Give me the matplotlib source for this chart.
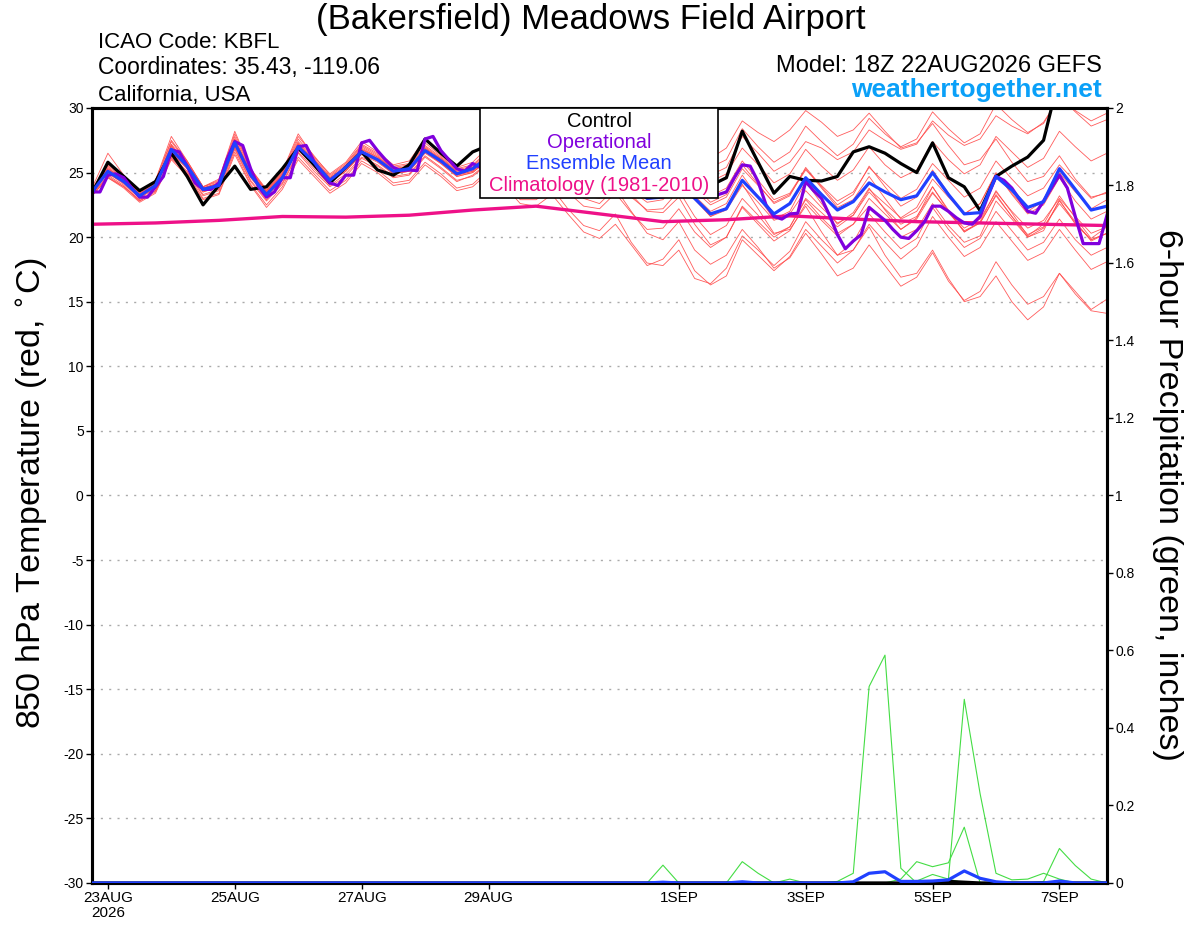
import matplotlib.pyplot as plt
import matplotlib.patches as patches
import numpy as np

plt.rcParams['font.family'] = ['Liberation Sans', 'DejaVu Sans']
plt.rcParams['axes.unicode_minus'] = False

# hours after 18Z 22AUG2026
hours6 = np.arange(0, 385, 6)
hours3 = np.arange(0, 385, 3)

tick_hours = [6, 54, 102, 150, 222, 270, 318, 366]
tick_labels = ['23AUG\n2026', '25AUG', '27AUG', '29AUG', '1SEP', '3SEP', '5SEP', '7SEP']

# 850 hPa temperature (C), 6-hourly
control = [23.4, 25.8, 24.7, 23.6, 24.3, 26.5, 24.7, 22.5, 24.0, 25.5, 23.7, 23.9, 25.3, 26.9, 25.6, 24.2, 25.4, 26.6, 25.2, 24.8, 25.6, 27.6, 26.5, 25.5, 26.6, 27.1,
           26.0, 25.0, 25.4, 26.8, 25.6, 24.6, 24.8, 26.2, 25.0, 24.2, 24.6, 26.0, 24.5, 24.0, 24.6,
           28.2, 25.8, 23.4, 24.7, 24.4, 24.35, 24.7, 26.6, 27.0, 26.5, 25.7, 25.0, 27.3, 24.6, 23.9, 22.05, 24.7, 25.5, 26.2, 27.5, 32.5, 34.0, 33.0, 33.5]

ens_mean = [23.5, 25.1, 24.3, 23.2, 24.0, 26.8, 25.5, 23.7, 24.0, 27.3, 24.8, 23.3, 24.6, 27.0, 25.8, 24.4, 25.4, 26.6, 26.0, 25.1, 25.3, 26.7, 25.9, 24.9, 25.3, 26.2,
            25.5, 24.5, 24.8, 25.8, 24.8, 24.0, 23.8, 25.0, 24.0, 23.0, 23.1, 24.2, 23.0, 21.8, 22.2,
            24.4, 23.1, 21.8, 22.6, 24.6, 23.3, 22.1, 22.75, 24.2, 23.5, 22.9, 23.2, 25.0, 23.3, 21.8, 21.9, 24.7, 23.65, 22.3, 22.75, 25.3, 23.7, 22.1, 22.4]

# operational run, 3-hourly
operational = [23.5, 23.5, 24.8, 24.9, 24.6, 23.8, 23.1, 23.1, 23.9, 24.7,
               26.75, 26.6, 25.5, 24.2, 23.7, 23.7, 24.2, 26.0, 27.4, 27.1,
               25.3, 23.9, 23.1, 23.5, 24.6, 24.6, 27.0, 27.1, 25.85, 24.9,
               24.2, 24.0, 24.8, 24.8, 27.3, 27.5, 26.7, 26.0, 25.4, 25.15,
               25.2, 25.15, 27.6, 27.8, 26.7, 26.0, 25.3, 25.1, 25.7, 25.4,
               26.8, 26.9, 26.0, 25.2, 24.6, 24.4, 24.9, 25.8, 26.9, 26.7,
               25.6, 24.7, 24.0, 23.8, 24.3, 25.2, 26.2, 26.0, 25.0, 24.2,
               23.6, 23.4, 23.8, 24.5, 25.6, 24.0, 23.2, 23.1, 23.2, 23.3,
               23.5, 24.6, 25.6, 25.5, 24.3, 22.5, 21.6, 21.4, 21.8, 21.85,
               24.3, 23.6, 23.0, 21.7, 20.2, 19.1, 19.7, 20.2, 22.3, 21.8,
               21.3, 20.6, 20.0, 19.9, 20.5, 21.2, 22.4, 22.4, 22.0, 21.5,
               21.1, 21.0, 21.6, 23.2, 24.7, 24.4, 23.8, 22.9, 22.0, 21.85,
               22.8, 23.8, 24.8, 23.8, 21.6, 19.5, 19.5, 19.5, 21.7]

members = [
    [23.8, 26.5, 24.8, 23.6, 24.4, 27.8, 25.9, 23.9, 24.5, 28.2, 25.3, 23.6, 25.1, 28.0, 26.2, 24.9, 25.8, 27.4, 26.6, 25.6, 25.9, 27.6, 26.4, 25.4, 25.8, 27.0,
     26.3, 25.2, 25.6, 27.4, 26.1, 25.0, 25.2, 26.9, 25.8, 24.9, 25.3, 27.1, 25.6, 24.8, 25.4,
     27.8, 26.5, 25.1, 25.8, 27.4, 26.9, 26.0, 26.6, 28.3, 27.5, 26.8, 27.2, 29.0, 27.9, 27.1, 27.6, 29.4, 28.6, 28.0, 28.9, 30.8, 29.8, 29.0, 29.6],
    [23.2, 24.6, 23.9, 22.9, 23.6, 26.2, 25.0, 23.2, 23.6, 26.8, 24.3, 22.8, 24.1, 26.5, 25.1, 23.9, 24.7, 26.1, 25.5, 24.6, 24.8, 26.2, 25.3, 24.3, 24.8, 25.8,
     25.0, 23.9, 24.2, 25.3, 24.0, 23.2, 23.0, 24.4, 23.1, 22.1, 22.2, 23.6, 21.6, 20.2, 20.9,
     23.0, 21.7, 20.2, 20.8, 22.9, 21.5, 20.3, 21.0, 22.4, 21.2, 20.0, 20.6, 22.6, 20.9, 19.6, 20.1, 22.8, 21.4, 20.0, 20.5, 22.9, 21.0, 19.8, 20.3],
    [23.6, 25.3, 24.5, 23.4, 24.2, 27.1, 25.6, 23.8, 24.1, 27.6, 25.0, 23.4, 24.7, 27.3, 25.9, 24.5, 25.4, 26.9, 26.2, 25.2, 25.4, 26.9, 26.0, 25.0, 25.2, 26.4,
     25.6, 24.3, 24.5, 25.6, 24.1, 23.0, 22.6, 23.8, 22.0, 20.3, 19.8, 21.2, 19.0, 17.9, 18.6,
     20.6, 19.2, 17.6, 18.4, 20.3, 18.7, 17.0, 17.6, 19.4, 17.8, 16.2, 16.9, 18.8, 16.6, 15.1, 15.8, 18.1, 16.3, 14.8, 15.4, 17.2, 15.6, 14.3, 14.1],
    [23.4, 25.0, 24.1, 23.0, 23.8, 26.5, 25.3, 23.5, 23.9, 27.0, 24.6, 23.1, 24.4, 26.8, 25.5, 24.2, 25.1, 26.4, 25.8, 24.9, 25.1, 26.5, 25.7, 24.7, 25.0, 26.0,
     25.3, 24.4, 24.9, 26.2, 25.1, 24.3, 24.6, 26.0, 24.9, 24.1, 24.6, 26.3, 25.1, 24.3, 24.9,
     26.9, 25.6, 24.2, 24.9, 26.8, 25.5, 24.4, 25.2, 27.0, 25.6, 24.6, 25.2, 27.4, 26.0, 24.9, 25.6, 27.8, 26.6, 25.4, 26.1, 28.2, 27.0, 25.9, 26.5],
    [23.7, 25.6, 24.6, 23.5, 24.3, 27.4, 25.8, 23.9, 24.3, 27.8, 25.2, 23.5, 24.9, 27.6, 26.1, 24.7, 25.6, 27.1, 26.4, 25.4, 25.6, 27.1, 26.2, 25.2, 25.5, 26.6,
     25.8, 24.8, 25.0, 26.3, 25.1, 24.0, 23.9, 25.4, 24.0, 22.9, 23.1, 24.9, 23.2, 22.0, 22.6,
     24.8, 23.1, 21.4, 22.0, 24.3, 22.6, 21.0, 21.9, 23.8, 22.1, 20.6, 21.5, 23.9, 22.0, 20.4, 21.2, 23.6, 21.9, 20.1, 21.0, 23.2, 21.5, 19.9, 20.8],
    [23.3, 24.8, 24.0, 22.8, 23.5, 26.1, 24.9, 23.0, 23.4, 26.6, 24.1, 22.5, 23.9, 26.2, 24.9, 23.6, 24.4, 25.9, 25.2, 24.2, 24.4, 25.8, 24.9, 23.8, 24.1, 25.2,
     24.2, 22.9, 22.9, 23.8, 22.2, 20.9, 20.5, 21.8, 19.6, 18.0, 17.8, 19.0, 16.8, 16.4, 17.6,
     20.1, 19.0, 17.8, 18.9, 21.2, 19.8, 18.6, 19.6, 21.8, 20.4, 19.1, 19.9, 22.3, 20.6, 19.2, 19.9, 22.0, 20.5, 19.0, 19.6, 21.4, 19.8, 18.6, 19.2],
    [23.5, 25.2, 24.4, 23.3, 24.1, 27.0, 25.7, 23.8, 24.2, 27.5, 25.0, 23.5, 24.8, 27.2, 25.8, 24.5, 25.4, 26.8, 26.2, 25.3, 25.4, 26.8, 26.1, 25.1, 25.4, 26.3,
     25.7, 24.7, 25.0, 26.5, 25.6, 24.8, 25.2, 26.8, 25.9, 25.0, 25.5, 27.4, 26.3, 25.4, 26.0,
     28.4, 27.0, 25.8, 26.6, 28.6, 27.4, 26.3, 27.2, 29.2, 28.0, 27.0, 27.6, 29.7, 28.4, 27.3, 28.0, 30.3, 29.1, 28.1, 28.8, 30.9, 29.7, 28.6, 29.1],
    [23.6, 24.9, 24.2, 23.1, 23.9, 26.7, 25.4, 23.6, 24.0, 27.1, 24.7, 23.2, 24.5, 26.9, 25.6, 24.3, 25.2, 26.5, 25.9, 25.0, 25.2, 26.6, 25.8, 24.8, 25.1, 26.1,
     25.2, 24.0, 24.2, 25.4, 24.3, 23.4, 23.4, 24.8, 23.6, 22.7, 22.9, 24.4, 22.9, 21.6, 22.1,
     24.0, 22.7, 21.3, 21.8, 23.6, 22.3, 21.1, 21.7, 23.5, 22.2, 21.0, 21.6, 23.5, 21.9, 20.5, 21.1, 23.2, 21.6, 20.2, 20.8, 22.6, 21.1, 19.8, 20.3],
    [23.4, 25.4, 24.4, 23.2, 24.0, 26.9, 25.5, 23.6, 24.1, 27.4, 24.9, 23.3, 24.6, 27.1, 25.7, 24.4, 25.3, 26.7, 26.0, 25.0, 25.2, 26.6, 25.8, 24.8, 25.1, 26.2,
     25.4, 24.4, 24.6, 25.9, 24.8, 23.8, 23.9, 25.2, 24.1, 23.0, 23.2, 24.8, 23.0, 21.6, 22.3,
     24.1, 22.2, 20.3, 20.6, 22.4, 20.4, 18.6, 19.0, 20.8, 18.6, 16.9, 17.2, 19.0, 16.8, 15.0, 15.4, 17.0, 15.0, 13.6, 14.6, 17.2, 15.8, 14.4, 15.2],
    [23.5, 25.0, 24.3, 23.3, 24.0, 26.7, 25.4, 23.7, 24.0, 27.2, 24.8, 23.4, 24.7, 27.0, 25.8, 24.5, 25.3, 26.6, 26.0, 25.1, 25.3, 26.8, 25.9, 24.9, 25.2, 26.3,
     25.6, 24.6, 24.8, 26.0, 24.9, 24.0, 24.0, 25.3, 24.2, 23.2, 23.4, 25.0, 23.6, 22.5, 23.1,
     25.3, 24.0, 22.7, 23.3, 25.2, 24.0, 22.8, 23.5, 25.4, 24.2, 23.0, 23.7, 25.7, 24.4, 23.1, 23.8, 25.9, 24.5, 23.2, 23.8, 25.6, 24.3, 23.0, 23.5],
    [23.3, 24.7, 23.9, 22.8, 23.6, 26.3, 25.1, 23.3, 23.7, 26.9, 24.4, 22.9, 24.2, 26.6, 25.3, 24.0, 24.9, 26.2, 25.6, 24.7, 24.9, 26.3, 25.4, 24.4, 24.7, 25.7,
     24.9, 23.7, 23.8, 24.9, 23.5, 22.4, 22.2, 23.4, 21.9, 20.6, 20.7, 22.2, 20.4, 19.2, 20.0,
     22.3, 21.0, 19.7, 20.5, 22.6, 21.3, 20.1, 21.0, 23.0, 21.8, 20.6, 21.4, 23.4, 22.0, 20.7, 21.4, 23.5, 22.0, 20.7, 21.3, 23.0, 21.6, 20.3, 20.8],
    [23.6, 25.5, 24.5, 23.4, 24.1, 27.2, 25.7, 23.8, 24.2, 27.6, 25.1, 23.6, 24.9, 27.4, 26.0, 24.6, 25.5, 27.0, 26.3, 25.3, 25.5, 27.0, 26.1, 25.1, 25.4, 26.5,
     25.9, 25.0, 25.3, 26.6, 25.4, 24.4, 24.6, 26.0, 24.6, 23.5, 23.8, 25.6, 24.0, 22.7, 23.3,
     25.6, 24.1, 22.6, 23.2, 25.4, 23.9, 22.5, 23.3, 25.5, 23.9, 22.4, 23.1, 25.2, 23.4, 21.8, 22.6, 25.0, 23.3, 21.8, 22.5, 24.6, 22.8, 21.4, 22.0],
    [23.4, 25.1, 24.2, 23.1, 23.8, 26.6, 25.3, 23.5, 23.9, 27.1, 24.7, 23.2, 24.5, 26.9, 25.5, 24.3, 25.1, 26.5, 25.9, 24.9, 25.1, 26.6, 25.7, 24.7, 25.0, 26.0,
     25.2, 24.1, 24.3, 25.5, 24.4, 23.6, 23.8, 25.3, 24.3, 23.4, 23.8, 25.6, 24.3, 23.2, 23.8,
     25.9, 24.4, 22.9, 23.4, 25.3, 23.8, 22.3, 22.9, 24.7, 23.0, 21.4, 22.0, 23.9, 22.1, 20.4, 21.1, 23.3, 21.6, 20.0, 20.7, 22.8, 21.2, 19.7, 20.3],
    [23.5, 25.3, 24.4, 23.3, 24.1, 27.1, 25.6, 23.8, 24.1, 27.5, 25.0, 23.4, 24.8, 27.2, 25.9, 24.6, 25.4, 26.8, 26.1, 25.2, 25.4, 26.9, 26.0, 25.0, 25.3, 26.4,
     25.7, 24.5, 24.7, 26.0, 24.8, 23.7, 23.6, 24.8, 23.3, 22.0, 21.9, 23.1, 21.0, 19.4, 20.0,
     22.4, 21.2, 20.0, 20.8, 23.0, 21.9, 20.8, 21.7, 23.7, 22.6, 21.5, 22.3, 24.5, 23.1, 21.8, 22.6, 24.9, 23.4, 22.0, 22.8, 25.0, 23.5, 22.2, 22.9],
    [23.7, 25.7, 24.7, 23.5, 24.4, 27.5, 25.9, 23.9, 24.4, 28.0, 25.3, 23.7, 25.0, 27.8, 26.3, 24.8, 25.7, 27.2, 26.5, 25.5, 25.7, 27.3, 26.3, 25.3, 25.6, 26.7,
     26.0, 25.1, 25.5, 27.0, 26.0, 25.2, 25.6, 27.3, 26.4, 25.6, 26.1, 27.8, 26.8, 26.1, 26.9,
     29.0, 28.1, 27.4, 28.3, 29.8, 28.9, 27.8, 28.3, 29.6, 28.2, 26.9, 27.3, 28.8, 27.1, 25.6, 26.0, 27.6, 25.8, 24.3, 24.7, 26.3, 24.5, 23.1, 23.4],
    [23.2, 24.6, 23.8, 22.7, 23.4, 26.0, 24.7, 22.9, 23.3, 26.4, 24.0, 22.3, 23.7, 26.0, 24.7, 23.4, 24.2, 25.7, 25.0, 24.0, 24.2, 25.6, 24.7, 23.6, 23.9, 25.0,
     24.0, 22.6, 22.4, 23.3, 21.8, 20.4, 19.9, 21.0, 19.4, 17.8, 18.3, 19.8, 17.4, 16.3, 17.0,
     19.8, 18.6, 17.4, 18.5, 20.6, 19.3, 18.0, 19.0, 21.0, 19.6, 18.3, 19.3, 21.6, 20.0, 18.5, 19.2, 21.2, 19.7, 18.2, 18.8, 20.6, 19.0, 17.5, 18.1],
]

# climatology, daily
clim_hours = np.arange(0, 385, 24)
climatology = [21.0, 21.1, 21.3, 21.6, 21.55, 21.7, 22.1, 22.4, 21.8, 21.2, 21.35, 21.65, 21.4, 21.2, 21.1, 21.0, 20.9]

# 6-hour precipitation (inches): non-zero steps only, by 6-hour index
member_rain = [
    {35: 0.0, 36: 0.046},
    {41: 0.055, 42: 0.025},
    {44: 0.01, 47: 0.004, 48: 0.025, 49: 0.507, 50: 0.588, 51: 0.038},
    {54: 0.01, 55: 0.474, 56: 0.23, 57: 0.025, 58: 0.008, 59: 0.01, 60: 0.025, 61: 0.01},
    {51: 0.01, 52: 0.055, 53: 0.042, 54: 0.052, 55: 0.144},
    {52: 0.005, 53: 0.022, 54: 0.01},
    {60: 0.004, 61: 0.089, 62: 0.045, 63: 0.01},
]
mean_rain = {36: 0.002, 41: 0.003, 48: 0.003, 49: 0.025, 50: 0.029, 51: 0.004, 52: 0.004,
             53: 0.005, 54: 0.008, 55: 0.031, 56: 0.012, 57: 0.003, 61: 0.005}
control_rain = {54: 0.004, 55: 0.002}


def rain_series(events):
    s = np.zeros(len(hours6))
    for k, v in events.items():
        s[k] = v
    return s


fig = plt.figure(figsize=(12, 9.27), dpi=100)
ax = fig.add_axes([0.0767, 0.0475, 0.8458, 0.836])
ax2 = ax.twinx()

for m in members:
    ax.plot(hours6, m, color='#ff4a4a', lw=0.6, alpha=0.9, zorder=2)
ax.plot(clim_hours, climatology, color='#ee1188', lw=2.4, zorder=3)
ax.plot(hours6, control, color='black', lw=2.3, zorder=4)
ax.plot(hours3, operational, color='#8000dd', lw=2.3, zorder=5)
ax.plot(hours6, ens_mean, color='#2040ff', lw=2.3, zorder=6)

for ev in member_rain:
    ax2.plot(hours6, rain_series(ev), color='#44dd44', lw=0.8, zorder=2)
ax2.plot(hours6, rain_series(control_rain), color='black', lw=2.3, zorder=3)
ax2.plot(hours6, rain_series(mean_rain), color='#2040ff', lw=2.3, zorder=4)

ax.set_xlim(0, 384)
ax.set_ylim(-30, 30)
ax2.set_ylim(0, 2)
ax.set_yticks(np.arange(-30, 31, 5))
ax2.set_yticks(np.arange(0, 2.01, 0.2))
ax2.set_yticklabels(['{:g}'.format(round(v, 1)) for v in np.arange(0, 2.01, 0.2)])
ax.set_xticks(tick_hours)
ax.set_xticklabels(tick_labels, fontsize=11, linespacing=1.1)

ax.yaxis.grid(True, linestyle=(0, (1.5, 4.5)), color='#aaaaaa', lw=1.0)
ax.set_axisbelow(True)
ax.tick_params(axis='y', direction='out', length=4, width=1, labelsize=10, pad=2)
ax.tick_params(axis='x', direction='out', length=4, width=1, pad=2)
ax2.tick_params(axis='y', direction='out', length=4, width=1, labelsize=10, pad=2)

for a in (ax, ax2):
    for sp in a.spines.values():
        sp.set_linewidth(2.2)
        sp.set_color('black')

# legend box
ax2.add_patch(patches.Rectangle((0.3823, 0.8839), 0.2344, 0.1161, transform=ax2.transAxes,
                                facecolor='white', edgecolor='black', lw=1.2, zorder=10))
leg_text = ['Control', 'Operational', 'Ensemble Mean', 'Climatology (1981-2010)']
leg_color = ['black', '#8000dd', '#2040ff', '#ee1188']
leg_y = [0.9832, 0.9561, 0.9290, 0.9006]
for t, c, y in zip(leg_text, leg_color, leg_y):
    ax2.text(0.4995, y, t, color=c, fontsize=14.5, ha='center', va='center',
             transform=ax2.transAxes, zorder=11)

fig.text(591 / 1200, 1 - 19 / 927, '(Bakersfield) Meadows Field Airport', fontsize=25,
         ha='center', va='center')
fig.text(98 / 1200, 1 - 48 / 927, 'ICAO Code: KBFL', fontsize=16, ha='left', va='baseline')
fig.text(98 / 1200, 1 - 74 / 927, 'Coordinates: 35.43, -119.06', fontsize=16.5, ha='left', va='baseline')
fig.text(98 / 1200, 1 - 101 / 927, 'California, USA', fontsize=16, ha='left', va='baseline')
fig.text(1102 / 1200, 1 - 72 / 927, 'Model: 18Z 22AUG2026 GEFS', fontsize=17, ha='right', va='baseline')
fig.text(1102 / 1200, 1 - 97 / 927, 'weathertogether.net', fontsize=19, fontweight='bold',
         color='#0aa0f8', ha='right', va='baseline')

fig.text(33 / 1200, 1 - 493 / 927, r'850 hPa Temperature (red, $^{\circ}$C)', fontsize=24.5,
         rotation=90, ha='center', va='center')
fig.text(1168 / 1200, 1 - 495 / 927, '6-hour Precipitation (green, inches)', fontsize=24.5,
         rotation=270, ha='center', va='center')

fig.savefig('out.png', dpi=100)
